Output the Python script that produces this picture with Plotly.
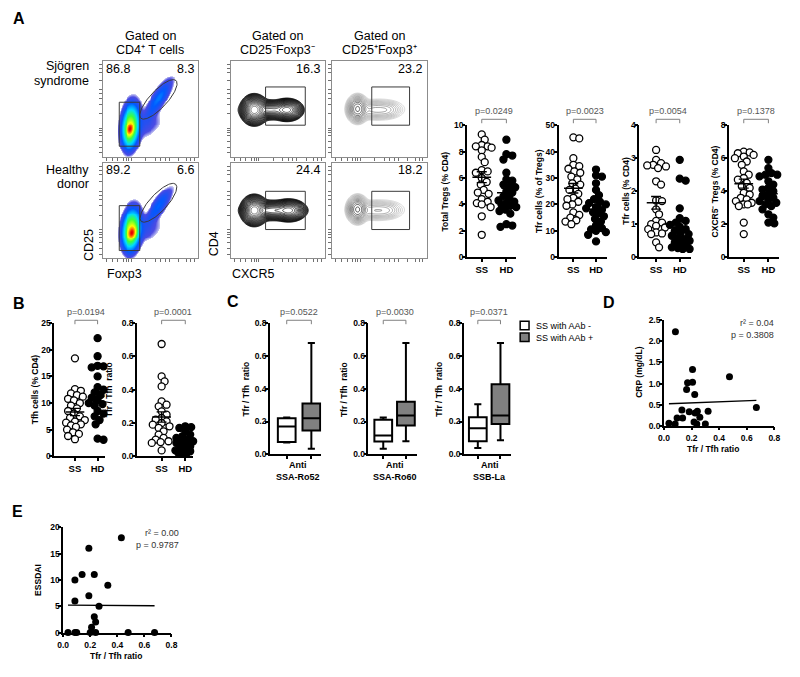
import numpy as np
import plotly.graph_objects as go

W, H = 800, 677
FONT = "Liberation Sans, Arial, sans-serif"

# ---------------- data ----------------
groups = ["SS", "HD"]

treg_ss = [9.3, 8.9, 8.5, 8.4, 8.3, 8.4, 8.1, 7.6, 7.2, 6.6, 6.5, 6.4, 6.0, 5.7, 5.5,
           5.1, 4.9, 4.8, 4.4, 4.2, 4.1, 4.0, 3.8, 3.1, 1.7]
treg_hd = [8.9, 7.8, 7.7, 7.4, 6.4, 5.9, 5.8, 5.5, 5.4, 5.3, 5.0, 4.9, 4.6, 4.5, 4.3,
           4.2, 4.1, 4.0, 3.9, 3.8, 3.6, 3.5, 3.3, 2.5, 2.3, 2.4]
tfr_treg_ss = [45.4, 45.0, 37.5, 35.0, 34.5, 33.5, 32.5, 32.0, 30.5, 29.5, 28.0, 27.5, 26.0,
               25.5, 24.0, 22.5, 22.0, 21.0, 20.0, 19.5, 17.0, 16.0, 15.0, 14.0, 13.5, 12.5]
tfr_treg_hd = [33.2, 31.0, 30.5, 28.0, 25.5, 23.5, 22.0, 21.0, 20.5, 20.0, 19.0, 18.5, 18.0,
               17.0, 16.5, 15.5, 14.5, 13.5, 12.0, 11.0, 10.5, 10.0, 9.5, 8.5, 6.0]
tfr_cd4_ss = [3.25, 2.95, 2.85, 2.8, 2.78, 2.75, 2.7, 2.3, 2.2, 1.72, 1.7, 1.45, 1.3, 1.1,
              1.05, 1.0, 0.95, 0.9, 0.85, 0.75, 0.72, 0.7, 0.45, 0.3]
tfr_cd4_hd = [2.95, 2.38, 2.32, 1.48, 1.18, 1.1, 1.05, 0.98, 0.92, 0.85, 0.8, 0.75, 0.7,
              0.65, 0.6, 0.55, 0.5, 0.45, 0.4, 0.35, 0.3, 0.28, 0.25, 0.25]
cxcr5neg_ss = [6.4, 6.35, 6.3, 6.2, 6.1, 6.0, 5.8, 5.6, 5.2, 5.0, 4.8, 4.7, 4.5, 4.3, 4.2,
               3.9, 3.8, 3.6, 3.5, 3.4, 3.3, 3.2, 3.2, 3.1, 2.1, 1.4]
cxcr5neg_hd = [5.9, 5.4, 5.1, 5.0, 5.0, 4.9, 4.6, 4.4, 4.2, 4.1, 4.0, 3.8, 3.7, 3.6, 3.5,
               3.4, 3.3, 3.2, 3.1, 2.9, 2.6, 2.4, 2.1, 2.05]
tfh_ss = [18.4, 12.6, 12.3, 11.8, 11.5, 11.2, 10.8, 10.5, 10.0, 9.5, 9.0, 8.5, 8.0, 7.5,
          7.2, 6.8, 6.5, 6.3, 6.0, 5.8, 5.5, 5.0, 4.5, 4.2, 3.8, 3.2]
tfh_hd = [22.2, 18.8, 17.0, 16.9, 16.7, 15.0, 13.0, 12.5, 12.0, 11.5, 11.0, 10.8, 10.5,
          10.0, 9.8, 9.5, 9.0, 8.5, 8.0, 7.5, 6.8, 6.0, 3.3, 3.1]
ratio_ss = [0.675, 0.48, 0.45, 0.42, 0.33, 0.31, 0.30, 0.27, 0.25, 0.23, 0.22, 0.21, 0.20,
            0.19, 0.18, 0.17, 0.15, 0.13, 0.11, 0.10, 0.09, 0.085, 0.08, 0.035]
ratio_hd = [0.18, 0.175, 0.17, 0.16, 0.15, 0.13, 0.12, 0.11, 0.10, 0.09, 0.085, 0.08, 0.07,
            0.06, 0.05, 0.045, 0.04, 0.035, 0.03, 0.025, 0.02, 0.02, 0.015]

pvals_A = ["p=0.0249", "p=0.0023", "p=0.0054", "p=0.1378"]
pvals_B = ["p=0.0194", "p=0.0001"]
pvals_C = ["p=0.0522", "p=0.0030", "p=0.0371"]

titles_A = ["Total Tregs (% CD4)", "Tfr cells (% of Tregs)", "Tfr cells (% CD4)",
            "CXCR5\u207b Tregs (% CD4)"]
titles_B = ["Tfh cells (% CD4)", "Tfr / Tfh  ratio"]

# Panel C box statistics: [min, Q1, median, Q3, max]
c_labels = [("Anti", "SSA-Ro52"), ("Anti", "SSA-Ro60"), ("Anti", "SSB-La")]
box_neg = [[0.072, 0.075, 0.17, 0.22, 0.225],
           [0.034, 0.078, 0.115, 0.21, 0.225],
           [0.038, 0.08, 0.159, 0.226, 0.306]]
box_pos = [[0.034, 0.145, 0.22, 0.31, 0.68],
           [0.08, 0.175, 0.236, 0.32, 0.68],
           [0.085, 0.185, 0.236, 0.427, 0.68]]
legend_C = ["SS with AAb -", "SS with AAb +"]

# Panel D
crp_ratio = [0.083, 0.207, 0.171, 0.207, 0.164, 0.223, 0.475, 0.67, 0.13, 0.183, 0.226,
             0.242, 0.32, 0.095, 0.135, 0.26, 0.036, 0.081, 0.218, 0.238, 0.30]
crp_vals = [2.23, 1.33, 1.02, 1.03, 0.86, 0.74, 1.16, 0.43, 0.375, 0.33, 0.30,
            0.34, 0.34, 0.18, 0.18, 0.20, 0.055, 0.04, 0.09, 0.04, 0.04]
crp_fit = (0.126, 0.516)          # slope, intercept
crp_stats = ["r\u00b2 = 0.04", "p = 0.3808"]

# Panel E
ess_ratio = [0.43, 0.19, 0.14, 0.23, 0.087, 0.33, 0.19, 0.087, 0.265, 0.23, 0.24, 0.21,
             0.036, 0.087, 0.1, 0.2, 0.24, 0.48, 0.675]
ess_vals = [18, 16, 11, 11, 10, 9, 7, 6, 5, 3, 2, 1, 0, 0, 0, 0, 0, 0, 0]
ess_fit = (-0.16, 5.2)
ess_stats = ["r\u00b2 = 0.00", "p = 0.9787"]

# Flow cytometry (gate frequencies)
flow_cols = [("Gated on", "CD4\u207a T cells"), ("Gated on", "CD25\u207bFoxp3\u207b"),
             ("Gated on", "CD25\u207aFoxp3\u207a")]
flow_rows = [("Sjögren", "syndrome"), ("Healthy", "donor")]
p1_left = ["86.8", "89.2"]
p1_right = ["8.3", "6.6"]
p2_vals = ["16.3", "24.4"]
p3_vals = ["23.2", "18.2"]

# population models (cx, cy, sx, sy, rho, weight) in 0-100 channel units
pc_pops = [
    [(29, 29, 2.2, 3.8, 0.2, 0.8), (29, 31, 4.0, 9.5, 0.15, 0.5), (30, 35, 5, 12, 0.2, 0.06),
     (57, 58, 8, 12, 0.85, 0.03), (60, 64, 5, 7, 0.7, 0.015), (47, 33, 9, 8, 0.4, 0.008)],
    [(31, 27, 2.5, 3.8, 0.2, 0.8), (30, 29, 4.2, 9.0, 0.15, 0.55), (31, 33, 5, 11, 0.2, 0.06),
     (57, 52, 8, 11, 0.85, 0.025), (60, 58, 5, 7, 0.7, 0.012), (47, 30, 9, 8, 0.4, 0.008)],
]
ct2_pops = [
    [(25, 49, 4.5, 5.0, 0, 1.0), (42, 49, 10, 3.2, 0, 0.25), (60, 49, 5.5, 3.8, 0, 0.5),
     (35, 49, 13, 6, 0, 0.01)],
    [(25, 50, 4.5, 5.0, 0, 1.0), (45, 50, 11, 3.2, 0, 0.3), (62, 50, 6, 3.8, 0, 0.45),
     (38, 50, 13, 6, 0, 0.01)],
]
ct3_pops = [
    [(27, 50, 4, 5, 0, 1.0), (45, 49, 10, 4, 0, 0.12), (58, 49, 6, 3.5, 0, 0.05),
     (55, 50, 14, 6, 0, 0.01)],
    [(27, 51, 4, 5, 0, 1.0), (45, 50, 10, 4, 0, 0.1), (58, 50, 6, 3.5, 0, 0.04),
     (55, 51, 14, 6, 0, 0.01)],
]
# gates: rect (x0, x1, y0, y1); ellipse (cx, cy, a, b, angle)
p1_rect = [(17.5, 39, 11, 57), (17.5, 39, 8, 55)]
p1_ell = [(58.5, 60, 27, 9, 47), (58.5, 58, 26.5, 9, 47)]
p2_rect = [(37, 79, 33, 73), (37, 79, 30, 70)]
p3_rect = [(42, 82, 33, 73), (42, 82, 30, 70)]

# ---------------- helpers ----------------
fig = go.Figure()
ax_n = [0]


def add_axes(xdom, ydom, xr, yr, xkw, ykw):
    ax_n[0] += 1
    n = ax_n[0]
    s = '' if n == 1 else str(n)
    xa = dict(domain=[xdom[0] / W, xdom[1] / W], range=xr, anchor='y' + s)
    xa.update(xkw)
    ya = dict(domain=[1 - ydom[1] / H, 1 - ydom[0] / H], range=yr, anchor='x' + s)
    ya.update(ykw)
    fig.update_layout(**{'xaxis' + s: xa, 'yaxis' + s: ya})
    return 'x' + s, 'y' + s


def gp_axis(**kw):
    d = dict(showline=True, linecolor='black', linewidth=1.6, ticks='outside', ticklen=3,
             tickwidth=1.5, tickcolor='black', showgrid=False, zeroline=False,
             tickfont=dict(family=FONT, size=8.5, color='black', weight='bold'), fixedrange=True)
    d.update(kw)
    return d


def txt(x, y, s, size=9, bold=False, color='black', xanchor='center', yanchor='middle',
        angle=0, align='center'):
    fig.add_annotation(x=x / W, y=1 - y / H, xref='paper', yref='paper', text=s,
                       showarrow=False, textangle=angle, align=align,
                       xanchor=xanchor, yanchor=yanchor,
                       font=dict(family=FONT, size=size, color=color,
                                 weight='bold' if bold else 'normal'))


def bracket(x0, x1, y, y2, ptext, ty):
    fig.add_shape(type='path', xref='paper', yref='paper',
                  path=f"M {x0/W},{1-y2/H} L {x0/W},{1-y/H} L {x1/W},{1-y/H} L {x1/W},{1-y2/H}",
                  line=dict(color='#808080', width=1))
    txt((x0 + x1) / 2, ty, ptext, size=9, color='#555555')


def swarm(vals, ppu, diam, maxoff):
    vals = np.asarray(vals, float)
    ypx = vals * ppu
    order = np.argsort(-vals, kind='stable')
    cands = [0.0]
    for k in range(1, int(maxoff) + 1):
        cands += [float(k), float(-k)]
    placed = []
    out = np.zeros(len(vals))
    for i in order:
        best, bestd = 0.0, -1.0
        for c in cands:
            dmin = min([np.hypot(c - px, ypx[i] - py) for px, py in placed] or [1e9])
            if dmin >= diam:
                best = c
                break
            if dmin > bestd + 0.5:
                best, bestd = c, dmin
        placed.append((best, ypx[i]))
        out[i] = best
    return out


YSO = -3  # pull y tick labels toward the axis line


def dot_plot(ss, hd, pos, ydom, yr, dtick, fmt, ptext, pty, bry, title, tx):
    ax_x, ss_x, hd_x, end_x = pos
    sp = hd_x - ss_x
    xr = [-(ss_x - ax_x) / sp, 1 + (end_x - hd_x) / sp]
    xa, ya = add_axes((ax_x, end_x), ydom, xr, yr,
                      gp_axis(tickvals=[0, 1], ticktext=groups,
                              tickfont=dict(family=FONT, size=9.5, color='black', weight='bold')),
                      gp_axis(dtick=dtick, tickformat=fmt, ticklabelstandoff=YSO))
    ppu = (ydom[1] - ydom[0]) / (yr[1] - yr[0])
    for gi, (vals, fill) in enumerate([(ss, 'white'), (hd, 'black')]):
        offs = swarm(vals, ppu, 5.8, 10) / sp
        fig.add_trace(go.Scatter(x=gi + offs, y=vals, mode='markers', xaxis=xa, yaxis=ya,
                                 marker=dict(size=7, color=fill, line=dict(color='black', width=1.3)),
                                 cliponaxis=False, hoverinfo='skip', showlegend=False))
        m = float(np.mean(vals))
        sem = float(np.std(vals, ddof=1) / np.sqrt(len(vals)))
        half = 9.5 / sp
        fig.add_trace(go.Scatter(x=[gi - half, gi + half], y=[m, m], mode='lines', xaxis=xa, yaxis=ya,
                                 line=dict(color='black', width=1.5), hoverinfo='skip', showlegend=False))
        fig.add_trace(go.Scatter(x=[gi], y=[m], mode='markers', xaxis=xa, yaxis=ya,
                                 marker=dict(size=1, color='black'),
                                 error_y=dict(type='constant', value=sem, width=5, thickness=1.4,
                                              color='black'),
                                 hoverinfo='skip', showlegend=False))
    bracket(ss_x, hd_x, bry, bry + 4, ptext, pty)
    txt(tx, (ydom[0] + ydom[1]) / 2, title, size=8.5, bold=True, angle=-90)


def mix(comps, n=100):
    g = np.linspace(0.5, 99.5, n)
    X, Y = np.meshgrid(g, g)
    d = np.zeros_like(X)
    for cx, cy, sx, sy, rho, w in comps:
        dx = (X - cx) / sx
        dy = (Y - cy) / sy
        q = (dx * dx - 2 * rho * dx * dy + dy * dy) / (1 - rho * rho)
        d += w * np.exp(-0.5 * q)
    return g, d / d.max()


flow_tick = dict(showline=True, mirror=True, linecolor='#8c8c8c', linewidth=1, ticks='outside',
                 ticklen=3, tickcolor='#707070', tickwidth=1, showticklabels=False,
                 showgrid=False, zeroline=False, fixedrange=True,
                 tickvals=[4, 10, 16, 22, 25, 27, 30, 45, 55, 61, 66, 70, 80, 88, 92, 96])

pc_scale = [[0, 'rgba(60,60,210,0.25)'], [0.12, 'rgba(30,30,220,0.8)'], [0.4, 'rgb(0,90,255)'],
            [0.6, 'rgb(0,220,255)'], [0.75, 'rgb(60,255,60)'], [0.88, 'rgb(255,255,0)'],
            [0.95, 'rgb(255,120,0)'], [1, 'rgb(230,0,0)']]
ZMIN = -2.7

# ---------------- Panel A: flow ----------------
col_x = [(98, 195), (228, 324), (331, 427)]
row_y = [(57, 154), (160, 257)]


def fx(c, v):
    return col_x[c][0] + (col_x[c][1] - col_x[c][0]) * v / 100


def fy(r, v):
    return row_y[r][1] - (row_y[r][1] - row_y[r][0]) * v / 100


def rect_trace(r, xa, ya):
    x0, x1, y0, y1 = r
    fig.add_trace(go.Scatter(x=[x0, x1, x1, x0, x0], y=[y0, y0, y1, y1, y0], mode='lines',
                             xaxis=xa, yaxis=ya, line=dict(color='#3a3a3a', width=1),
                             hoverinfo='skip', showlegend=False))


for r in range(2):
    # pseudocolor CD25 vs Foxp3
    xa, ya = add_axes(col_x[0], row_y[r], [0, 100], [0, 100], dict(flow_tick), dict(flow_tick))
    g, d = mix(pc_pops[r])
    z = np.log10(np.maximum(d, 1e-9))
    z = np.where(z < ZMIN, np.nan, z)
    fig.add_trace(go.Heatmap(x=g, y=g, z=z, colorscale=pc_scale, zmin=ZMIN, zmax=0, zsmooth=False,
                             showscale=False, hoverinfo='skip', xaxis=xa, yaxis=ya))
    rect_trace(p1_rect[r], xa, ya)
    cx, cy, a, b, ang = p1_ell[r]
    t = np.linspace(0, 2 * np.pi, 120)
    th = np.deg2rad(ang)
    ex = cx + a * np.cos(t) * np.cos(th) - b * np.sin(t) * np.sin(th)
    ey = cy + a * np.cos(t) * np.sin(th) + b * np.sin(t) * np.cos(th)
    fig.add_trace(go.Scatter(x=ex, y=ey, mode='lines', xaxis=xa, yaxis=ya,
                             line=dict(color='#3a3a3a', width=1), hoverinfo='skip', showlegend=False))
    txt(fx(0, 2), fy(r, 92), p1_left[r], size=12.5, xanchor='left')
    txt(fx(0, 98), fy(r, 92), p1_right[r], size=12.5, xanchor='right')

    # contour CD4 vs CXCR5 (CD25-Foxp3-)
    xa, ya = add_axes(col_x[1], row_y[r], [0, 100], [0, 100], dict(flow_tick), dict(flow_tick))
    g, d = mix(ct2_pops[r])
    z = np.log10(np.maximum(d, 1e-9))
    fig.add_trace(go.Contour(x=g, y=g, z=z, contours=dict(start=-2.6, end=-0.05, size=0.13,
                                                         coloring='lines'),
                             colorscale=[[0, 'black'], [0.8, '#202020'], [1, '#606060']],
                             line=dict(width=0.8),
                             showscale=False, hoverinfo='skip', xaxis=xa, yaxis=ya))
    rect_trace(p2_rect[r], xa, ya)
    txt(fx(1, 97), fy(r, 92), p2_vals[r], size=12.5, xanchor='right')

    # contour CD4 vs CXCR5 (CD25+Foxp3+)
    xa, ya = add_axes(col_x[2], row_y[r], [0, 100], [0, 100], dict(flow_tick), dict(flow_tick))
    g, d = mix(ct3_pops[r])
    z = np.log10(np.maximum(d, 1e-9))
    fig.add_trace(go.Contour(x=g, y=g, z=z, contours=dict(start=-2.4, end=-0.05, size=0.18,
                                                         coloring='lines'),
                             colorscale=[[0, '#c8c8c8'], [0.5, '#8a8a8a'], [1, '#202020']],
                             line=dict(width=0.7),
                             showscale=False, hoverinfo='skip', xaxis=xa, yaxis=ya))
    rect_trace(p3_rect[r], xa, ya)
    txt(fx(2, 97), fy(r, 92), p3_vals[r], size=12.5, xanchor='right')

for c in range(3):
    cxm = (col_x[c][0] + col_x[c][1]) / 2
    txt(cxm, 31, flow_cols[c][0], size=12.5)
    txt(cxm, 46, flow_cols[c][1], size=12.5)
for r, y in enumerate([62, 167]):
    txt(86, y, flow_rows[r][0], size=12.5, xanchor='right')
    txt(86, y + 15, flow_rows[r][1], size=12.5, xanchor='right')
txt(85, 244, "CD25", size=12.5, angle=-90)
txt(100, 273, "Foxp3", size=12.5, xanchor='left')
txt(212, 242, "CD4", size=12.5, angle=-90)
txt(227, 273, "CXCR5", size=12.5, xanchor='left')

# ---------------- Panel A: dot plots ----------------
A_pos = [(468, 483, 508, 518), (561, 576, 599, 610), (643, 660, 684, 695), (734, 749, 774, 785)]
A_data = [(treg_ss, treg_hd, [0, 10], 2, None), (tfr_treg_ss, tfr_treg_hd, [0, 50], 10, None),
          (tfr_cd4_ss, tfr_cd4_hd, [0, 4], 1, None), (cxcr5neg_ss, cxcr5neg_hd, [0, 8], 2, None)]
A_tx = [446, 541, 630, 720]
for i in range(4):
    ss, hd, yr, dt, fm = A_data[i]
    dot_plot(ss, hd, A_pos[i], (122, 256), yr, dt, fm, pvals_A[i], 108, 116, titles_A[i], A_tx[i])

# ---------------- Panel B ----------------
B_pos = [(49, 70, 93, 100), (133, 158, 182, 190)]
dot_plot(tfh_ss, tfh_hd, B_pos[0], (323, 458), [0, 25], 5, None, pvals_B[0], 312, 320,
         titles_B[0], 29)
dot_plot(ratio_ss, ratio_hd, B_pos[1], (323, 458), [0, 0.8], 0.2, '.1f', pvals_B[1], 312, 320,
         titles_B[1], 104)

# ---------------- Panel C ----------------
C_pos = [(268, 285, 310, 320), (368, 383, 406, 417), (465, 479, 502, 513)]
C_tx = [244, 343, 440]
for i in range(3):
    ax_x, b0, b1, end_x = C_pos[i]
    sp = b1 - b0
    xr = [-(b0 - ax_x) / sp, 1 + (end_x - b1) / sp]
    xa, ya = add_axes((ax_x, end_x), (323, 456), xr, [0, 0.8],
                      gp_axis(tickvals=[0, 1], showticklabels=False),
                      gp_axis(dtick=0.2, tickformat='.1f', ticklabelstandoff=YSO))
    for j, (st, fill) in enumerate([(box_neg[i], 'white'), (box_pos[i], '#808080')]):
        fig.add_trace(go.Box(x=[j], lowerfence=[st[0]], q1=[st[1]], median=[st[2]], q3=[st[3]],
                             upperfence=[st[4]], width=18 / sp, whiskerwidth=0.4,
                             fillcolor=fill, line=dict(color='black', width=2), boxpoints=False,
                             hoverinfo='skip', showlegend=False, xaxis=xa, yaxis=ya))
    bracket(b0, b1, 320, 324, pvals_C[i], 312)
    txt(C_tx[i], 390, "Tfr / Tfh  ratio", size=8.5, bold=True, angle=-90)
    txt((ax_x + end_x) / 2 + 2, 467, c_labels[i][0], size=9, bold=True)
    txt((ax_x + end_x) / 2 + 2, 479, c_labels[i][1], size=9, bold=True)

for j, (fill, lab) in enumerate(zip(['white', '#808080'], legend_C)):
    y0 = 321 + j * 12
    fig.add_shape(type='rect', xref='paper', yref='paper', x0=522 / W, x1=531 / W,
                  y0=1 - (y0 + 8.5) / H, y1=1 - y0 / H, fillcolor=fill,
                  line=dict(color='black', width=1.5))
    txt(536, y0 + 4.5, lab, size=9, xanchor='left')

# ---------------- Panel D ----------------
xa, ya = add_axes((668, 780), (320, 427), [0, 0.8], [0, 2.5],
                  gp_axis(dtick=0.2, tickformat='.1f'),
                  gp_axis(dtick=0.5, tickformat='.1f', ticklabelstandoff=YSO))
fig.add_trace(go.Scatter(x=crp_ratio, y=crp_vals, mode='markers', xaxis=xa, yaxis=ya,
                         marker=dict(size=7, color='black'), cliponaxis=False,
                         hoverinfo='skip', showlegend=False))
lx = np.array([min(crp_ratio), max(crp_ratio)])
fig.add_trace(go.Scatter(x=lx, y=crp_fit[0] * lx + crp_fit[1], mode='lines', xaxis=xa, yaxis=ya,
                         line=dict(color='black', width=1.3), hoverinfo='skip', showlegend=False))
txt(782, 323, crp_stats[0], size=9, color='#333333', xanchor='right')
txt(782, 335, crp_stats[1], size=9, color='#333333', xanchor='right')
txt(643, 373, "CRP (mg/dL)", size=8.5, bold=True, angle=-90)
txt(718, 451, "Tfr / Tfh ratio", size=8.5, bold=True)

# ---------------- Panel E ----------------
xa, ya = add_axes((58, 168), (530, 637), [0, 0.8], [0, 20],
                  gp_axis(dtick=0.2, tickformat='.1f'),
                  gp_axis(dtick=5, ticklabelstandoff=YSO))
fig.add_trace(go.Scatter(x=ess_ratio, y=ess_vals, mode='markers', xaxis=xa, yaxis=ya,
                         marker=dict(size=7, color='black'), cliponaxis=False,
                         hoverinfo='skip', showlegend=False))
lx = np.array([min(ess_ratio), max(ess_ratio)])
fig.add_trace(go.Scatter(x=lx, y=ess_fit[0] * lx + ess_fit[1], mode='lines', xaxis=xa, yaxis=ya,
                         line=dict(color='black', width=1.3), hoverinfo='skip', showlegend=False))
txt(178, 536, ess_stats[0], size=9, color='#333333', xanchor='right')
txt(178, 548, ess_stats[1], size=9, color='#333333', xanchor='right')
txt(33, 584, "ESSDAI", size=8.5, bold=True, angle=-90)
txt(112, 661, "Tfr / Tfh ratio", size=8.5, bold=True)

# ---------------- panel letters ----------------
for L, x, y in [("A", 13, 14), ("B", 13, 303), ("C", 230, 301), ("D", 612, 302), ("E", 12, 514)]:
    txt(x, y, L, size=16, bold=True)

fig.update_layout(width=W, height=H, margin=dict(l=0, r=0, t=0, b=0),
                  paper_bgcolor='white', plot_bgcolor='rgba(0,0,0,0)', showlegend=False,
                  font=dict(family=FONT))
fig.write_html("out.html", config={'displayModeBar': False},
               post_script="document.body.style.margin='0px';")
